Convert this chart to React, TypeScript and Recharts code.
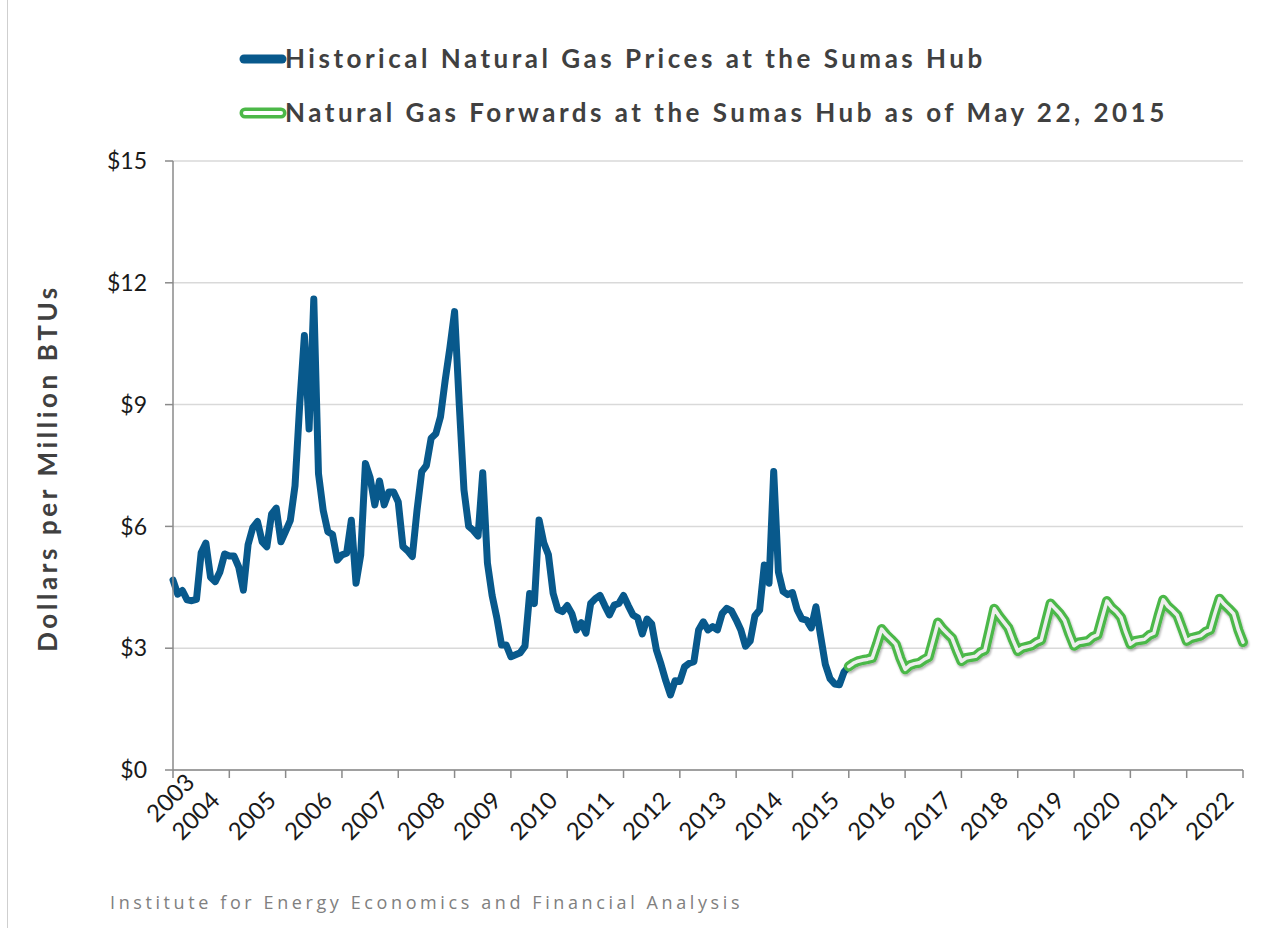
import React from 'react';
import { LineChart, Line, XAxis, YAxis, CartesianGrid, Label } from 'recharts';

// Year labels shown under the month-index axis (one tick every 12 months)
const yearLabels = [
  '2003', '2004', '2005', '2006', '2007', '2008', '2009', '2010', '2011', '2012',
  '2013', '2014', '2015', '2016', '2017', '2018', '2019', '2020', '2021', '2022',
];
const yTicks = [0, 3, 6, 9, 12, 15];

// Monthly historical Sumas Hub prices ($/MMBtu)
const historicalPrices = [
  4.68, 4.33, 4.42, 4.19, 4.17, 4.2, 5.35, 5.59, 4.75, 4.64,
  4.88, 5.32, 5.27, 5.27, 5.0, 4.43, 5.55, 5.97, 6.12, 5.62,
  5.5, 6.3, 6.45, 5.62, 5.88, 6.15, 7.0, 9.0, 10.7, 8.4,
  11.6, 7.3, 6.4, 5.87, 5.8, 5.17, 5.3, 5.34, 6.15, 4.6,
  5.3, 7.55, 7.2, 6.53, 7.12, 6.53, 6.85, 6.85, 6.6, 5.5,
  5.4, 5.26, 6.4, 7.35, 7.5, 8.17, 8.28, 8.7, 9.6, 10.4,
  11.29, 9.0, 6.9, 6.0, 5.9, 5.76, 7.32, 5.1, 4.3, 3.75,
  3.08, 3.08, 2.79, 2.84, 2.89, 3.05, 4.35, 4.1, 6.16, 5.6,
  5.3, 4.35, 3.95, 3.9, 4.05, 3.85, 3.45, 3.63, 3.37, 4.1,
  4.22, 4.3, 4.05, 3.82, 4.06, 4.1, 4.3, 4.05, 3.82, 3.75,
  3.35, 3.72, 3.6, 2.96, 2.6, 2.2, 1.85, 2.2, 2.18, 2.54,
  2.63, 2.67, 3.45, 3.65, 3.45, 3.53, 3.45, 3.85, 3.98, 3.92,
  3.7, 3.45, 3.05, 3.18, 3.8, 3.94, 5.05, 4.6, 7.35, 4.88,
  4.4, 4.32, 4.37, 3.95, 3.72, 3.69, 3.5, 4.02, 3.3, 2.6,
  2.25, 2.12, 2.1, 2.42, 2.55,
];

// Monthly forwards as of May 22, 2015, starting at month index 144
const forwardStartMonth = 144;
const forwardPrices = [
  2.55, 2.63, 2.68, 2.71, 2.73, 2.76, 3.1,
  3.47, 3.33, 3.22, 3.1, 2.75, 2.48, 2.58, 2.62, 2.64, 2.72, 2.78, 3.2,
  3.63, 3.48, 3.36, 3.25, 2.95, 2.68, 2.76, 2.78, 2.8, 2.9, 2.95, 3.45,
  3.97, 3.8, 3.65, 3.5, 3.2, 2.93, 3.01, 3.04, 3.07, 3.15, 3.2, 3.65,
  4.1, 3.97, 3.85, 3.68, 3.35, 3.06, 3.14, 3.16, 3.18, 3.28, 3.33, 3.75,
  4.16, 4.0, 3.9, 3.76, 3.4, 3.1, 3.18, 3.2, 3.22, 3.32, 3.37, 3.8,
  4.19, 4.03, 3.93, 3.81, 3.5, 3.18, 3.25, 3.28, 3.31, 3.4, 3.45, 3.85,
  4.22, 4.08, 3.97, 3.85, 3.45, 3.15,
];

const seriesNames = [
  'Historical Natural Gas Prices at the Sumas Hub',
  'Natural Gas Forwards at the Sumas Hub as of May 22, 2015',
];

const lastMonth = (yearLabels.length - 1) * 12;
const monthTicks = yearLabels.map((_, i) => i * 12);

const data = Array.from({ length: lastMonth + 1 }, (_, m) => ({
  m,
  hist: m < historicalPrices.length ? historicalPrices[m] : null,
  fwd:
    m >= forwardStartMonth && m - forwardStartMonth < forwardPrices.length
      ? forwardPrices[m - forwardStartMonth]
      : null,
}));

const BLUE = '#08598c';
const GREEN = '#4cb848';
const AXIS = '#8a8a8a';
const TICK_FONT = 'Lato, "Noto Sans", sans-serif';
const BOLD_FONT = 'Lato, "Open Sans", sans-serif';

const XTick = (props: any) => {
  const { x, y, payload, index } = props;
  const label = yearLabels[Math.round(payload.value / 12)];
  const ax = index === 0 ? x + 23 : x - 8;
  const ay = index === 0 ? y + 6 : y + 24;
  return (
    <text
      x={ax}
      y={ay}
      transform={`rotate(-45, ${ax}, ${ay})`}
      textAnchor="end"
      fontSize={24}
      fontFamily={TICK_FONT}
      fill="#1a1a1a"
    >
      {label}
    </text>
  );
};

const YLabel = () => (
  <text
    x={57}
    y={468}
    transform="rotate(-90, 57, 468)"
    textAnchor="middle"
    fontSize={26}
    fontWeight={700}
    letterSpacing={3.6}
    fontFamily={BOLD_FONT}
    fill="#404040"
  >
    Dollars per Million BTUs
  </text>
);

export default function App() {
  return (
    <div
      style={{
        position: 'absolute',
        left: 0,
        top: 0,
        width: 1286,
        height: 928,
        background: '#fff',
        overflow: 'hidden',
      }}
    >
      <div
        style={{ position: 'absolute', left: 7, top: 0, width: 1, height: 928, background: '#cfcfcf' }}
      />
      <LineChart
        width={1286}
        height={928}
        data={data}
        margin={{ top: 161, right: 43, left: 0, bottom: 0 }}
      >
        <defs>
          <filter id="fwdShadow" x="-5%" y="-20%" width="110%" height="140%">
            <feDropShadow dx="1" dy="2" stdDeviation="1" floodColor="#000" floodOpacity="0.3" />
          </filter>
        </defs>
        <CartesianGrid vertical={false} stroke="#d9d9d9" strokeWidth={1.5} />
        <XAxis
          dataKey="m"
          type="number"
          domain={[0, lastMonth]}
          ticks={monthTicks}
          interval={0}
          height={158}
          tickSize={8}
          tickMargin={0}
          axisLine={{ stroke: AXIS, strokeWidth: 1.5 }}
          tickLine={{ stroke: AXIS, strokeWidth: 1.5 }}
          tick={<XTick />}
        />
        <YAxis
          type="number"
          domain={[0, 15]}
          ticks={yTicks}
          interval={0}
          width={173}
          tickSize={8}
          tickMargin={18}
          axisLine={{ stroke: AXIS, strokeWidth: 1.5 }}
          tickLine={{ stroke: AXIS, strokeWidth: 1.5 }}
          tick={{ fontSize: 23, fill: '#1a1a1a', fontFamily: TICK_FONT }}
          tickFormatter={(v: number) => `$${v}`}
        >
          <Label content={<YLabel />} />
        </YAxis>
        <Line
          dataKey="hist"
          type="linear"
          stroke={BLUE}
          strokeWidth={7}
          strokeLinejoin="round"
          strokeLinecap="round"
          dot={false}
          activeDot={false}
          isAnimationActive={false}
        />
        <Line
          dataKey="fwd"
          type="linear"
          stroke={GREEN}
          strokeWidth={10}
          strokeLinejoin="round"
          strokeLinecap="round"
          dot={false}
          activeDot={false}
          filter="url(#fwdShadow)"
          isAnimationActive={false}
        />
        <Line
          dataKey="fwd"
          type="linear"
          stroke="#eeeeee"
          strokeWidth={3.5}
          strokeLinejoin="round"
          strokeLinecap="round"
          dot={false}
          activeDot={false}
          isAnimationActive={false}
        />
      </LineChart>

      {/* Legend */}
      <svg style={{ position: 'absolute', left: 0, top: 0 }} width={1286} height={140}>
        <line x1={244} y1={59} x2={282} y2={59} stroke={BLUE} strokeWidth={9} strokeLinecap="round" />
        <line x1={245} y1={113} x2={281} y2={113} stroke={GREEN} strokeWidth={11} strokeLinecap="round" />
        <line x1={245} y1={113} x2={281} y2={113} stroke="#ffffff" strokeWidth={4} strokeLinecap="round" />
        {seriesNames.map((name, i) => (
          <text
            key={name}
            x={285}
            y={68 + i * 54}
            fontSize={26}
            fontWeight={700}
            letterSpacing={3.5}
            fontFamily={BOLD_FONT}
            fill="#404040"
          >
            {name}
          </text>
        ))}
      </svg>

      <div
        style={{
          position: 'absolute',
          left: 110,
          top: 890,
          fontFamily: '"Open Sans", sans-serif',
          fontSize: 18,
          letterSpacing: 3.6,
          color: '#808080',
          whiteSpace: 'nowrap',
          lineHeight: '24px',
        }}
      >
        Institute for Energy Economics and Financial Analysis
      </div>
    </div>
  );
}
